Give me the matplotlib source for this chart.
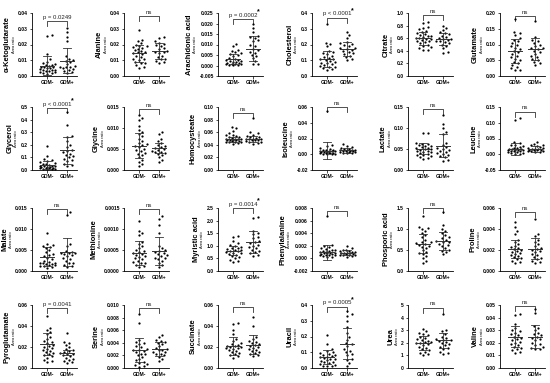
import matplotlib
matplotlib.use("Agg")
import matplotlib.pyplot as plt
import numpy as np

plt.rcParams['font.family'] = ['Liberation Sans', 'DejaVu Sans']

# ---- data ----
names = ["\u03b1-Ketoglutarate", "Alanine", "Arachidonic acid", "Cholesterol", "Citrate", "Glutamate",
         "Glycerol", "Glycine", "Homocysteate", "Isoleucine", "Lactate", "Leucine",
         "Malate", "Methionine", "Myristic acid", "Phenylalanine", "Phosporic acid", "Proline",
         "Pyroglutamate", "Serine", "Succinate", "Uracil", "Urea", "Valine"]

groups = ["GDM-", "GDM+"]

# y axis: (min, max, step)
yaxes = [(0, 0.04, 0.01), (0, 0.04, 0.01), (-0.005, 0.025, 0.005), (0, 0.4, 0.1), (0, 1.0, 0.2), (0, 0.20, 0.05),
         (0, 0.5, 0.1), (0, 0.015, 0.005), (0, 0.10, 0.02), (-0.02, 0.06, 0.02), (0, 0.15, 0.05), (-0.05, 0.15, 0.05),
         (0, 0.015, 0.005), (0, 0.0015, 0.0005), (0, 2.5, 0.5), (-0.002, 0.008, 0.002), (0, 1.5, 0.5), (0, 0.006, 0.002),
         (0, 0.06, 0.02), (0, 0.010, 0.002), (0, 0.06, 0.02), (0, 0.4, 0.1), (0, 5, 1), (0, 0.05, 0.01)]

stat_text = ["p = 0.0249", "ns", "p = 0.0002", "p < 0.0001", "ns", "ns",
             "p < 0.0001", "ns", "ns", "ns", "ns", "ns",
             "ns", "ns", "p = 0.0014", "ns", "ns", "ns",
             "p = 0.0041", "ns", "ns", "p = 0.0005", "ns", "ns"]
stars = [False, False, True, True, False, False,
         True, False, False, False, False, False,
         False, False, True, False, False, False,
         False, False, False, True, False, False]
bracket_y = [0.035, 0.038, 0.022, 0.37, 0.97, 0.19,
             0.49, 0.0145, 0.09, 0.06, 0.145, 0.135,
             0.0148, 0.00148, 2.5, 0.0075, 1.5, 0.0056,
             0.057, 0.0095, 0.058, 0.39, 4.8, 0.049]

mean_neg = [0.0065, 0.0145, 0.003, 0.11, 0.6, 0.08,
            0.04, 0.0058, 0.049, 0.0045, 0.051, 0.016,
            0.0034, 0.00043, 0.8, 0.001, 0.65, 0.0021,
            0.0225, 0.0028, 0.021, 0.07, 2.0, 0.025]
sd_neg = [0.006, 0.0053, 0.0025, 0.05, 0.1, 0.038,
          0.035, 0.003, 0.004, 0.0105, 0.013, 0.019,
          0.0022, 0.00028, 0.18, 0.0012, 0.22, 0.0009,
          0.0105, 0.0019, 0.0085, 0.045, 0.55, 0.0085]
mean_pos = [0.0098, 0.016, 0.008, 0.17, 0.585, 0.085,
            0.155, 0.0053, 0.049, 0.005, 0.058, 0.016,
            0.0045, 0.00048, 1.15, 0.0009, 0.72, 0.0021,
            0.0145, 0.003, 0.022, 0.155, 2.2, 0.025]
sd_pos = [0.008, 0.005, 0.006, 0.045, 0.1, 0.035,
          0.105, 0.0012, 0.005, 0.003, 0.028, 0.009,
          0.0033, 0.00033, 0.42, 0.0004, 0.22, 0.001,
          0.0025, 0.0011, 0.009, 0.1, 0.6, 0.0095]

vals_neg = [
    [0.026, 0.0255, 0.014, 0.0105, 0.009, 0.008, 0.0075, 0.007, 0.0068, 0.0065, 0.006, 0.0058, 0.0055, 0.005,
     0.0048, 0.0045, 0.004, 0.0038, 0.0035, 0.0032, 0.003, 0.0028, 0.0025, 0.002, 0.0018, 0.0012],
    [0.029, 0.023, 0.0225, 0.021, 0.0195, 0.019, 0.019, 0.0185, 0.018, 0.017, 0.0165, 0.016, 0.0155, 0.015,
     0.0145, 0.014, 0.013, 0.012, 0.011, 0.0105, 0.01, 0.009, 0.0085, 0.008, 0.007, 0.006, 0.0052],
    [0.0103, 0.0095, 0.0075, 0.007, 0.0062, 0.0058, 0.0055, 0.005, 0.0045, 0.0035, 0.003, 0.0028, 0.0025, 0.0022,
     0.002, 0.0018, 0.0015, 0.0012, 0.001, 0.0009, 0.0008, 0.0006, 0.0005, 0.0004, 0.0002, 0.0001],
    [0.33, 0.21, 0.205, 0.19, 0.16, 0.15, 0.145, 0.14, 0.13, 0.12, 0.115, 0.11, 0.105, 0.1, 0.095, 0.09, 0.085,
     0.08, 0.075, 0.07, 0.065, 0.06, 0.055, 0.05, 0.045, 0.04],
    [0.85, 0.84, 0.78, 0.76, 0.74, 0.72, 0.7, 0.68, 0.67, 0.65, 0.64, 0.63, 0.62, 0.61, 0.6, 0.59, 0.58, 0.57,
     0.56, 0.55, 0.54, 0.52, 0.5, 0.48, 0.46, 0.44, 0.42, 0.42],
    [0.18, 0.14, 0.135, 0.13, 0.12, 0.115, 0.11, 0.105, 0.1, 0.095, 0.09, 0.085, 0.08, 0.075, 0.07, 0.065, 0.06,
     0.055, 0.05, 0.045, 0.04, 0.035, 0.03, 0.025, 0.02, 0.02],
    [0.19, 0.11, 0.09, 0.08, 0.07, 0.06, 0.055, 0.05, 0.045, 0.04, 0.035, 0.032, 0.03, 0.028, 0.025, 0.022, 0.02,
     0.018, 0.015, 0.013, 0.012, 0.01, 0.008, 0.007, 0.005],
    [0.013, 0.0125, 0.012, 0.0105, 0.0095, 0.009, 0.0085, 0.008, 0.0075, 0.007, 0.0065, 0.0062, 0.006, 0.0058,
     0.0055, 0.005, 0.0048, 0.0045, 0.004, 0.0038, 0.0035, 0.003, 0.0025, 0.002, 0.0015, 0.001],
    [0.068, 0.066, 0.062, 0.058, 0.056, 0.055, 0.054, 0.053, 0.052, 0.051, 0.05, 0.05, 0.049, 0.049, 0.048, 0.048,
     0.047, 0.047, 0.046, 0.046, 0.045, 0.045, 0.044, 0.044, 0.043, 0.042],
    [0.055, 0.012, 0.01, 0.008, 0.007, 0.006, 0.0055, 0.005, 0.0045, 0.004, 0.004, 0.0035, 0.003, 0.003, 0.0025,
     0.002, 0.002, 0.0015, 0.001, 0.001, 0.0005, 0.0003, 0.0002, 0.0001],
    [0.088, 0.087, 0.065, 0.063, 0.061, 0.06, 0.058, 0.057, 0.055, 0.053, 0.052, 0.05, 0.049, 0.048, 0.046, 0.045,
     0.044, 0.042, 0.04, 0.038, 0.036, 0.035, 0.033, 0.03, 0.028, 0.026],
    [0.115, 0.11, 0.04, 0.035, 0.03, 0.028, 0.025, 0.022, 0.02, 0.019, 0.018, 0.017, 0.016, 0.015, 0.014, 0.013,
     0.012, 0.011, 0.01, 0.009, 0.008, 0.006, 0.005, 0.003, 0.002, 0.0],
    [0.009, 0.0065, 0.0062, 0.006, 0.0058, 0.0055, 0.005, 0.0045, 0.004, 0.0038, 0.0035, 0.003, 0.0028, 0.0025,
     0.0022, 0.002, 0.0019, 0.0018, 0.0017, 0.0016, 0.0015, 0.0014, 0.0013, 0.0012, 0.001, 0.0008],
    [0.0012, 0.00095, 0.0009, 0.00085, 0.0007, 0.00065, 0.0006, 0.00055, 0.0005, 0.00048, 0.00045, 0.00042, 0.0004,
     0.00038, 0.00035, 0.00033, 0.0003, 0.00028, 0.00025, 0.00022, 0.0002, 0.00018, 0.00015, 0.00012, 0.0001],
    [1.4, 1.35, 1.2, 1.1, 1.05, 1.0, 0.95, 0.92, 0.9, 0.88, 0.85, 0.82, 0.8, 0.78, 0.75, 0.72, 0.7, 0.68, 0.65,
     0.6, 0.55, 0.5, 0.45, 0.4, 0.35],
    [0.0068, 0.0022, 0.002, 0.0018, 0.0016, 0.0015, 0.0014, 0.0013, 0.0012, 0.0011, 0.001, 0.001, 0.0009, 0.0009,
     0.0008, 0.0008, 0.0007, 0.0007, 0.0006, 0.0006, 0.0005, 0.0005, 0.0004, 0.0003, 0.0002],
    [1.3, 1.05, 1.02, 1.0, 0.95, 0.9, 0.85, 0.8, 0.75, 0.7, 0.68, 0.66, 0.65, 0.62, 0.6, 0.58, 0.55, 0.5, 0.45,
     0.42, 0.4, 0.35, 0.3, 0.25, 0.2],
    [0.0047, 0.0042, 0.0038, 0.0035, 0.003, 0.0028, 0.0026, 0.0024, 0.0023, 0.0022, 0.0021, 0.002, 0.0019, 0.0018,
     0.0017, 0.0016, 0.0015, 0.0014, 0.0013, 0.0012, 0.0011, 0.001, 0.0009, 0.0008],
    [0.05, 0.038, 0.036, 0.034, 0.032, 0.03, 0.028, 0.026, 0.025, 0.024, 0.022, 0.021, 0.02, 0.019, 0.018, 0.017,
     0.016, 0.015, 0.014, 0.013, 0.012, 0.011, 0.01, 0.008, 0.007, 0.006],
    [0.0085, 0.0072, 0.0045, 0.0042, 0.004, 0.0038, 0.0035, 0.0033, 0.003, 0.0029, 0.0028, 0.0027, 0.0025, 0.0023,
     0.0022, 0.002, 0.0018, 0.0015, 0.0012, 0.001, 0.0008, 0.0006, 0.0004, 0.0003, 0.0002],
    [0.043, 0.042, 0.036, 0.032, 0.028, 0.026, 0.024, 0.023, 0.022, 0.021, 0.0205, 0.02, 0.02, 0.019, 0.019, 0.018,
     0.017, 0.016, 0.015, 0.014, 0.013, 0.012, 0.011, 0.01],
    [0.21, 0.15, 0.12, 0.11, 0.1, 0.095, 0.09, 0.085, 0.08, 0.075, 0.07, 0.068, 0.065, 0.06, 0.055, 0.05, 0.045,
     0.04, 0.035, 0.03, 0.025, 0.02, 0.015, 0.012, 0.01],
    [3.1, 2.9, 2.8, 2.7, 2.6, 2.5, 2.4, 2.3, 2.2, 2.15, 2.1, 2.05, 2.0, 1.95, 1.9, 1.8, 1.7, 1.6, 1.5, 1.4, 1.3,
     1.2, 1.1, 1.0],
    [0.043, 0.042, 0.035, 0.032, 0.03, 0.029, 0.028, 0.027, 0.026, 0.025, 0.024, 0.023, 0.022, 0.021, 0.02, 0.019,
     0.018, 0.017, 0.016, 0.015, 0.014, 0.013, 0.012],
]

vals_pos = [
    [0.0305, 0.028, 0.0245, 0.022, 0.0125, 0.011, 0.0102, 0.0098, 0.009, 0.0075, 0.0065, 0.006, 0.0058, 0.0055,
     0.005, 0.0045, 0.004, 0.003, 0.0025, 0.0018],
    [0.025, 0.024, 0.022, 0.021, 0.0205, 0.0195, 0.019, 0.0175, 0.017, 0.016, 0.0155, 0.015, 0.0145, 0.013, 0.012,
     0.011, 0.0105, 0.0095, 0.009, 0.008],
    [0.0198, 0.0178, 0.016, 0.014, 0.0135, 0.013, 0.012, 0.0115, 0.01, 0.0095, 0.008, 0.0072, 0.0065, 0.006, 0.005,
     0.0045, 0.0035, 0.002, 0.0008, 0.0005],
    [0.28, 0.26, 0.24, 0.215, 0.21, 0.205, 0.2, 0.19, 0.18, 0.175, 0.17, 0.165, 0.16, 0.15, 0.145, 0.14, 0.13,
     0.12, 0.11, 0.1],
    [0.79, 0.76, 0.73, 0.7, 0.68, 0.66, 0.64, 0.62, 0.6, 0.59, 0.58, 0.57, 0.56, 0.55, 0.54, 0.52, 0.5, 0.48, 0.45,
     0.38, 0.36],
    [0.175, 0.125, 0.115, 0.11, 0.105, 0.1, 0.095, 0.09, 0.088, 0.085, 0.08, 0.075, 0.07, 0.065, 0.06, 0.055, 0.05,
     0.045, 0.04, 0.035],
    [0.46, 0.36, 0.27, 0.26, 0.23, 0.2, 0.18, 0.16, 0.15, 0.14, 0.13, 0.12, 0.11, 0.1, 0.09, 0.08, 0.07, 0.05,
     0.04, 0.03],
    [0.009, 0.0085, 0.0075, 0.007, 0.0065, 0.006, 0.0058, 0.0055, 0.0052, 0.005, 0.0048, 0.0046, 0.0044, 0.0042,
     0.004, 0.0038, 0.0035, 0.003, 0.0025, 0.002],
    [0.082, 0.06, 0.058, 0.056, 0.054, 0.053, 0.052, 0.051, 0.05, 0.05, 0.049, 0.049, 0.048, 0.048, 0.047, 0.046,
     0.045, 0.044, 0.043, 0.042],
    [0.013, 0.011, 0.009, 0.008, 0.007, 0.0065, 0.006, 0.0055, 0.005, 0.005, 0.0045, 0.004, 0.004, 0.0035, 0.003,
     0.003, 0.0025, 0.002, 0.002, 0.0015],
    [0.13, 0.11, 0.1, 0.09, 0.085, 0.065, 0.06, 0.055, 0.052, 0.05, 0.048, 0.045, 0.043, 0.04, 0.038, 0.035, 0.033,
     0.03, 0.025, 0.022],
    [0.038, 0.032, 0.03, 0.028, 0.025, 0.022, 0.02, 0.019, 0.018, 0.017, 0.016, 0.015, 0.014, 0.013, 0.012, 0.011,
     0.01, 0.009, 0.008, 0.006],
    [0.014, 0.0133, 0.0065, 0.006, 0.0048, 0.0045, 0.0044, 0.0043, 0.0042, 0.004, 0.0038, 0.0035, 0.003, 0.0028,
     0.0025, 0.002, 0.0018, 0.0015, 0.0012, 0.001],
    [0.0013, 0.00125, 0.0011, 0.0009, 0.0006, 0.00055, 0.0005, 0.00048, 0.00045, 0.00042, 0.0004, 0.00038, 0.00035,
     0.00032, 0.0003, 0.00028, 0.00025, 0.0002, 0.00015, 0.0001],
    [2.15, 2.1, 1.6, 1.5, 1.45, 1.35, 1.3, 1.2, 1.15, 1.1, 1.05, 1.0, 0.95, 0.9, 0.85, 0.8, 0.75, 0.7, 0.65, 0.6],
    [0.0019, 0.0016, 0.0014, 0.0013, 0.0012, 0.0011, 0.001, 0.001, 0.0009, 0.0009, 0.0008, 0.0008, 0.0007, 0.0007,
     0.0006, 0.0006, 0.0005, 0.0005, 0.0004, 0.0003],
    [1.4, 1.1, 1.0, 0.95, 0.9, 0.85, 0.8, 0.78, 0.75, 0.72, 0.7, 0.68, 0.65, 0.62, 0.6, 0.55, 0.5, 0.48, 0.45, 0.4],
    [0.005, 0.0035, 0.0033, 0.003, 0.0028, 0.0026, 0.0024, 0.0022, 0.0021, 0.002, 0.0019, 0.0018, 0.0016, 0.0015,
     0.0013, 0.0012, 0.0011, 0.001, 0.0009, 0.0008],
    [0.033, 0.025, 0.024, 0.022, 0.02, 0.018, 0.017, 0.016, 0.015, 0.014, 0.0135, 0.013, 0.012, 0.011, 0.01, 0.009,
     0.008, 0.007, 0.006, 0.005],
    [0.0053, 0.005, 0.0045, 0.0043, 0.0042, 0.004, 0.0038, 0.0035, 0.0032, 0.003, 0.0029, 0.0028, 0.0026, 0.0025,
     0.0023, 0.0022, 0.002, 0.0018, 0.0015, 0.0011],
    [0.049, 0.04, 0.03, 0.028, 0.026, 0.025, 0.024, 0.023, 0.022, 0.021, 0.02, 0.019, 0.018, 0.017, 0.016, 0.015,
     0.014, 0.013, 0.012, 0.011],
    [0.36, 0.34, 0.33, 0.3, 0.26, 0.22, 0.2, 0.18, 0.16, 0.15, 0.14, 0.12, 0.11, 0.1, 0.09, 0.08, 0.06, 0.05,
     0.03, 0.01],
    [4.3, 3.0, 2.9, 2.7, 2.5, 2.4, 2.3, 2.25, 2.2, 2.15, 2.1, 2.0, 1.9, 1.8, 1.7, 1.6, 1.5, 1.3, 1.2, 1.1],
    [0.047, 0.044, 0.033, 0.032, 0.03, 0.028, 0.027, 0.026, 0.025, 0.024, 0.023, 0.022, 0.02, 0.019, 0.018, 0.017,
     0.016, 0.015, 0.015],
]

# ---- layout ----
W, H = 550, 383
col_x = [32, 124, 218, 312, 408, 500]      # pixel x of y-axis
row_bottom = [76, 170, 271, 368]           # pixel y of x-axis
ax_w, ax_h = 45, 63
XLIM = (-0.75, 1.5)
GAP_PX = 3.4      # min distance between dot centres in the swarm
STEP_PX = 1.5
MAX_K = 5         # keep the swarm within about +-7 px


def swarm_offsets(values, ymin, ymax):
    # simple beeswarm: place points in rank order, nudging sideways to avoid overlap
    ypx = (np.asarray(values) - ymin) / (ymax - ymin) * ax_h
    order = np.argsort(ypx)
    placed = []
    xoff = np.zeros(len(values))
    steps = [0]
    for k in range(1, MAX_K + 1):
        steps += [k, -k]
    for i in order:
        best_x, best_d = 0.0, -1.0
        for s in steps:
            x = s * STEP_PX
            d = min([np.hypot(x - px, ypx[i] - py) for px, py in placed] or [99])
            if d >= GAP_PX:
                best_x = x
                break
            if d > best_d:
                best_x, best_d = x, d
        placed.append((best_x, ypx[i]))
        xoff[i] = best_x
    px_per_unit = ax_w / (XLIM[1] - XLIM[0])
    return xoff / px_per_unit


def fmt(v, step):
    dec = max(0, int(np.ceil(-np.log10(step) - 1e-9)))
    return f"{v:.{dec}f}"


fig = plt.figure(figsize=(W / 100, H / 100), dpi=100)

for i, name in enumerate(names):
    r, c = divmod(i, 6)
    left = col_x[c] / W
    bottom = 1 - row_bottom[r] / H
    ax = fig.add_axes([left, bottom, ax_w / W, ax_h / H])
    ymin, ymax, step = yaxes[i]

    for g, (vals, m, s) in enumerate([(vals_neg[i], mean_neg[i], sd_neg[i]),
                                      (vals_pos[i], mean_pos[i], sd_pos[i])]):
        xs = g + swarm_offsets(vals, ymin, ymax)
        ax.scatter(xs, vals, s=2.6, color='black', linewidths=0, zorder=3, clip_on=False)
        ax.plot([g - 0.36, g + 0.36], [m, m], color='#333333', lw=0.7, zorder=4)
        ax.plot([g, g], [m - s, m + s], color='#333333', lw=0.6, zorder=4)
        for e in (m - s, m + s):
            ax.plot([g - 0.18, g + 0.18], [e, e], color='#333333', lw=0.6, zorder=4)

    # bracket
    yr = ymax - ymin
    by = bracket_y[i]
    ax.plot([0, 0, 1, 1], [by - 0.08 * yr, by, by, by - 0.08 * yr], color='#333333', lw=0.6,
            clip_on=False)
    ax.text(0.5, by + 0.02 * yr, stat_text[i], ha='center', va='bottom', fontsize=4.3, color='#222222')
    if stars[i]:
        ax.text(1.25, by + 0.06 * yr, '*', ha='center', va='bottom', fontsize=5, fontweight='bold')

    ax.set_xlim(*XLIM)
    ax.set_ylim(ymin, ymax)
    ticks = np.arange(ymin, ymax + step / 2, step)
    ax.set_yticks(ticks)
    ax.set_yticklabels([fmt(t, step) for t in ticks])
    ax.set_xticks([0, 1])
    ax.set_xticklabels(groups)
    for sp in ['top', 'right']:
        ax.spines[sp].set_visible(False)
    for sp in ['left', 'bottom']:
        ax.spines[sp].set_linewidth(0.6)
    ax.tick_params(axis='both', labelsize=3.6, length=1.8, width=0.5, pad=1.2)
    for lab in ax.get_xticklabels() + ax.get_yticklabels():
        lab.set_fontweight('bold')
    ax.patch.set_alpha(0)

    ax.set_ylabel(name, fontsize=5.4, fontweight='bold', labelpad=5)
    ax.annotate('Area ratio', xy=(1, 0.5), xycoords=ax.yaxis.label, xytext=(0.5, 0),
                textcoords='offset points', rotation=90, ha='left', va='center', fontsize=2.8)

fig.savefig('out.png', dpi=100)
